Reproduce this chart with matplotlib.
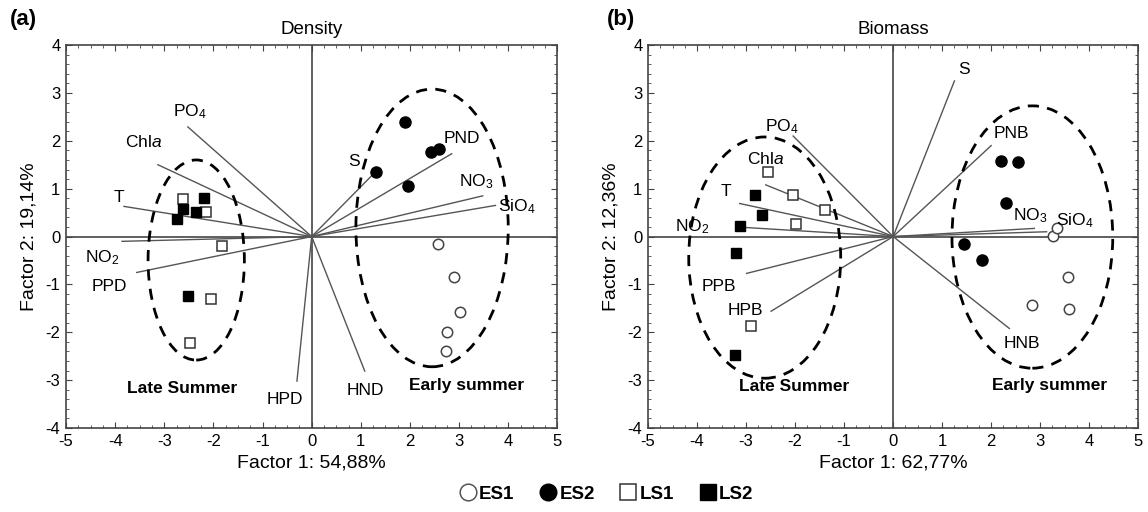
import matplotlib
matplotlib.use("Agg")
import matplotlib.pyplot as plt
from matplotlib.patches import Ellipse
from matplotlib.ticker import MultipleLocator
from matplotlib.lines import Line2D

plt.rcParams['font.family'] = ['Liberation Sans', 'DejaVu Sans']
plt.rcParams['mathtext.fontset'] = 'custom'
plt.rcParams['mathtext.rm'] = 'Liberation Sans'
plt.rcParams['mathtext.it'] = 'Liberation Sans:italic'
plt.rcParams['mathtext.bf'] = 'Liberation Sans:bold'
plt.rcParams['axes.unicode_minus'] = False

# ---------------- Panel (a) Density ----------------
a_es1_x = [2.58, 2.89, 3.01, 2.76, 2.74]
a_es1_y = [-0.15, -0.84, -1.58, -2.00, -2.40]
a_es2_x = [1.89, 2.60, 2.42, 1.30, 1.97]
a_es2_y = [2.40, 1.83, 1.77, 1.35, 1.06]
a_ls1_x = [-2.62, -2.15, -1.83, -2.05, -2.48]
a_ls1_y = [0.79, 0.52, -0.19, -1.31, -2.23]
a_ls2_x = [-2.20, -2.62, -2.36, -2.74, -2.52]
a_ls2_y = [0.81, 0.58, 0.52, 0.375, -1.25]

a_vec_names = [r'PO$_4$', r'Chl$\it{a}$', 'T', r'NO$_2$', 'PPD', 'HPD', 'HND',
               'S', 'PND', r'NO$_3$', r'SiO$_4$']
a_vec_x = [-2.52, -3.13, -3.82, -3.86, -3.56, -0.30, 1.08, 1.22, 2.85, 3.48, 3.74]
a_vec_y = [2.29, 1.50, 0.63, -0.10, -0.75, -3.02, -2.81, 1.27, 1.73, 0.85, 0.65]
a_lab_x = [-2.48, -3.42, -3.92, -4.26, -4.12, -0.54, 1.10, 0.86, 3.06, 3.34, 4.18]
a_lab_y = [2.60, 1.98, 0.81, -0.44, -1.04, -3.40, -3.21, 1.57, 2.04, 1.15, 0.63]

# ---------------- Panel (b) Biomass ----------------
b_es1_x = [3.27, 3.35, 3.56, 2.84, 3.58]
b_es1_y = [0.02, 0.17, -0.85, -1.44, -1.52]
b_es2_x = [2.21, 2.54, 2.31, 1.45, 1.82]
b_es2_y = [1.58, 1.56, 0.71, -0.15, -0.48]
b_ls1_x = [-2.56, -2.04, -1.39, -1.98, -2.90]
b_ls1_y = [1.35, 0.875, 0.56, 0.27, -1.87]
b_ls2_x = [-2.82, -2.68, -3.13, -3.21, -3.23]
b_ls2_y = [0.875, 0.46, 0.21, -0.35, -2.48]

b_vec_names = ['S', 'PNB', r'NO$_3$', r'SiO$_4$', 'HNB', r'PO$_4$', r'Chl$\it{a}$',
               'T', r'NO$_2$', 'PPB', 'HPB']
b_vec_x = [1.25, 2.00, 2.88, 3.13, 2.37, -2.04, -2.60, -3.13, -3.03, -2.99, -2.49]
b_vec_y = [3.25, 1.90, 0.17, 0.10, -1.92, 2.10, 1.08, 0.69, 0.19, -0.77, -1.56]
b_lab_x = [1.44, 2.42, 2.80, 3.70, 2.63, -2.28, -2.60, -3.42, -4.09, -3.55, -3.02]
b_lab_y = [3.49, 2.15, 0.44, 0.34, -2.24, 2.29, 1.63, 0.94, 0.21, -1.04, -1.54]

group_labels = ['ES1', 'ES2', 'LS1', 'LS2']

fig = plt.figure(figsize=(11.48, 5.12), dpi=100)
axA = fig.add_axes([0.0575, 0.164, 0.428, 0.748])
axB = fig.add_axes([0.5645, 0.164, 0.427, 0.748])

spine_col = '#444444'
line_col = '#555555'


def draw_panel(ax, es1, es2, ls1, ls2, names, vx, vy, lx, ly,
               ell_late, ell_early, late_pos, early_pos):
    ax.set_xlim(-5, 5)
    ax.set_ylim(-4, 4)
    ax.axhline(0, color=spine_col, lw=1.2, zorder=1)
    ax.axvline(0, color=spine_col, lw=1.2, zorder=1)
    for x, y, n, tx, ty in zip(vx, vy, names, lx, ly):
        ax.plot([0, x], [0, y], color=line_col, lw=1.0, zorder=2)
        ax.text(tx, ty, n, fontsize=12.5, ha='center', va='center', zorder=5)
    for (cx, cy, w, h) in [ell_late, ell_early]:
        e = Ellipse((cx, cy), w, h, fill=False, ls=(0, (4, 3)), lw=2.0,
                    edgecolor='black', zorder=3)
        ax.add_patch(e)
    ms = 7.5
    ax.plot(es1[0], es1[1], 'o', ms=ms, mfc='white', mec='#444444', mew=1.1, ls='none', zorder=4)
    ax.plot(es2[0], es2[1], 'o', ms=ms + 0.5, mfc='black', mec='black', ls='none', zorder=4)
    ax.plot(ls1[0], ls1[1], 's', ms=ms - 0.5, mfc='white', mec='#333333', mew=1.1, ls='none', zorder=4)
    ax.plot(ls2[0], ls2[1], 's', ms=ms - 0.5, mfc='black', mec='black', ls='none', zorder=4)
    ax.text(late_pos[0], late_pos[1], 'Late Summer', fontsize=12.5, fontweight='bold',
            ha='center', va='center')
    ax.text(early_pos[0], early_pos[1], 'Early summer', fontsize=12.5, fontweight='bold',
            ha='center', va='center')
    ax.xaxis.set_major_locator(MultipleLocator(1))
    ax.yaxis.set_major_locator(MultipleLocator(1))
    ax.xaxis.set_minor_locator(MultipleLocator(0.25))
    ax.yaxis.set_minor_locator(MultipleLocator(0.2))
    ax.tick_params(which='both', direction='in', top=True, right=True,
                   color=spine_col, labelsize=12, pad=4)
    ax.tick_params(which='major', length=4)
    ax.tick_params(which='minor', length=2)
    for s in ax.spines.values():
        s.set_color(spine_col)
        s.set_linewidth(1.2)


draw_panel(axA, (a_es1_x, a_es1_y), (a_es2_x, a_es2_y), (a_ls1_x, a_ls1_y),
           (a_ls2_x, a_ls2_y), a_vec_names, a_vec_x, a_vec_y, a_lab_x, a_lab_y,
           (-2.35, -0.49, 1.96, 4.18), (2.45, 0.18, 3.10, 5.80),
           (-2.64, -3.17), (3.15, -3.12))
draw_panel(axB, (b_es1_x, b_es1_y), (b_es2_x, b_es2_y), (b_ls1_x, b_ls1_y),
           (b_ls2_x, b_ls2_y), b_vec_names, b_vec_x, b_vec_y, b_lab_x, b_lab_y,
           (-2.62, -0.44, 3.10, 5.04), (2.84, -0.01, 3.28, 5.48),
           (-2.02, -3.13), (3.19, -3.12))

axA.set_title('Density', fontsize=13.5, pad=8)
axB.set_title('Biomass', fontsize=13.5, pad=8)
axA.set_xlabel('Factor 1: 54,88%', fontsize=14, labelpad=4)
axA.set_ylabel('Factor 2: 19,14%', fontsize=14, labelpad=6)
axB.set_xlabel('Factor 1: 62,77%', fontsize=14, labelpad=4)
axB.set_ylabel('Factor 2: 12,36%', fontsize=14, labelpad=6)

fig.text(0.009, 0.962, '(a)', fontsize=16, fontweight='bold', va='center')
fig.text(0.529, 0.962, '(b)', fontsize=16, fontweight='bold', va='center')

handles = [
    Line2D([], [], marker='o', ls='none', ms=12, mfc='white', mec='#555555', mew=1.1),
    Line2D([], [], marker='o', ls='none', ms=12, mfc='black', mec='black'),
    Line2D([], [], marker='s', ls='none', ms=11, mfc='white', mec='#333333', mew=1.1),
    Line2D([], [], marker='s', ls='none', ms=11, mfc='black', mec='black'),
]
leg = fig.legend(handles, group_labels, loc='center', bbox_to_anchor=(0.527, 0.035),
                 ncol=4, frameon=False, handletextpad=0.0, handlelength=1.2,
                 columnspacing=1.2, prop={'weight': 'bold', 'size': 13.5})

fig.savefig('out.png', dpi=100)
